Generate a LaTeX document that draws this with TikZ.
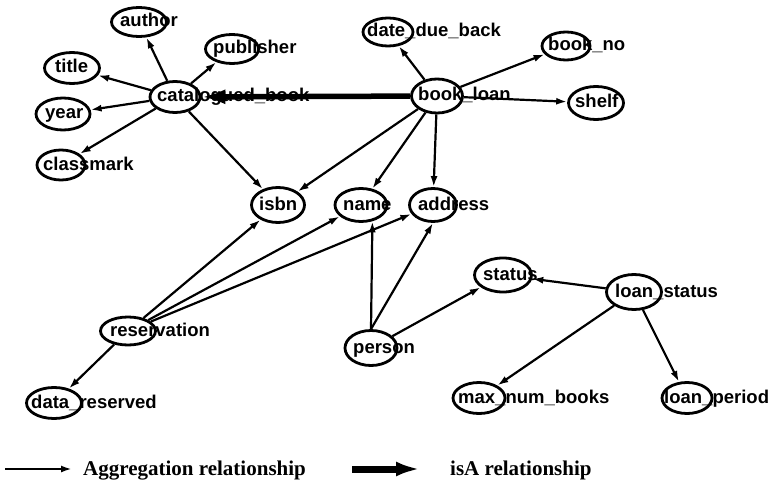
\documentclass[tikz,border=0pt]{standalone}
\usepackage{fontspec}
\setmainfont{Liberation Serif}
\newfontfamily\labelfont{Liberation Sans}
\usetikzlibrary{shapes.geometric,arrows.meta}
% entity: ellipse named #1 at (#2,#3), size #4 x #5, label starting at x=#6
\newcommand\entity[7]{%
  \node[ent,minimum width=#4pt,minimum height=#5pt] (#1) at (#2,#3) {};
  \node[lbl] (#1-t) at (#6,#3+5) {#7};
}
\begin{document}
\begin{tikzpicture}[x=1pt,y=-1pt,
  ent/.style={draw,ellipse,line width=2.8pt,inner sep=0pt},
  lbl/.style={anchor=base west,inner sep=0pt,font=\labelfont\bfseries\fontsize{18.5}{18.5}\selectfont},
  agg/.style={line width=2.2pt,-{Latex[length=11pt,width=7pt]}},
  isa/.style={line width=5.5pt,-{Latex[length=24pt,width=15pt]}},
  legendtext/.style={anchor=base west,inner sep=0pt,font=\bfseries\fontsize{21}{21}\selectfont}]
\useasboundingbox (0,0) rectangle (779,492);

% entities
\entity{author}{139}{22}{55}{29}{120}{author}
\entity{publisher}{232}{49}{53}{29}{213}{publisher}
\entity{title}{72}{68}{55}{31}{55}{title}
\entity{year}{63}{114}{54}{32}{45}{year}
\entity{catbook}{175}{97}{50}{31}{157}{catalogued\_book}
\entity{classmark}{61}{165}{48}{30}{43}{classmark}
\entity{isbn}{278}{205}{53}{35}{259}{isbn}
\entity{name}{361}{205}{52}{33}{343}{name}
\entity{address}{433}{205}{47}{33}{418}{address}
\entity{datedue}{388}{32}{50}{28}{367}{date\_due\_back}
\entity{bookno}{566}{46}{48}{28}{548}{book\_no}
\entity{bookloan}{437}{96}{51}{34}{418}{book\_loan}
\entity{shelf}{596}{103}{55}{33}{575}{shelf}
\entity{reservation}{128}{331}{55}{28}{110}{reservation}
\entity{datares}{54}{403}{55}{31}{31}{data\_reserved}
\entity{person}{371}{348}{52}{35}{353}{person}
\entity{status}{503}{275}{57}{34}{483}{status}
\entity{loanstatus}{634}{292}{55}{35}{615}{loan\_status}
\entity{maxbooks}{479}{398}{52}{31}{458}{max\_num\_books}
\entity{loanperiod}{687}{398}{50}{31}{664}{loan\_period}

% aggregation relationships
\foreach \t in {author,publisher,title,year,classmark,isbn}
  \draw[agg] (catbook) -- (\t);
\foreach \t in {datedue,bookno,shelf,isbn,name,address}
  \draw[agg] (bookloan) -- (\t);
\foreach \t in {isbn,name,address,datares}
  \draw[agg] (reservation) -- (\t);
\draw[agg] (person.north) -- (name.-55);
\draw[agg] (person.north) -- (address.south);
\draw[agg] (person) -- (status);
\foreach \t in {status,maxbooks,loanperiod}
  \draw[agg] (loanstatus) -- (\t);

% isA relationship
\draw[isa] (bookloan) -- (catbook);

% legend
\coordinate (aggA) at (5,469);
\coordinate (aggB) at (72,469);
\draw[agg] (aggA) -- (aggB);
\node[legendtext] (aggtext) at (83,475) {Aggregation relationship};
\coordinate (isaA) at (352,469);
\coordinate (isaB) at (420,469);
\draw[isa,line width=7pt] (isaA) -- (isaB);
\node[legendtext] (isatext) at (450,475) {isA relationship};
\end{tikzpicture}
\end{document}
